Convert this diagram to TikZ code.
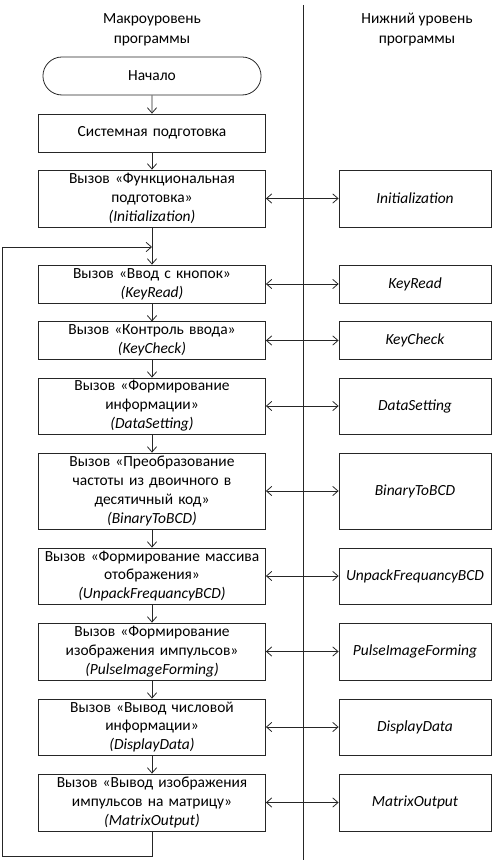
\documentclass[tikz,border=0pt]{standalone}
\usepackage{fontspec}
\setmainfont{Carlito}
\usetikzlibrary{arrows.meta,shapes.misc}
\begin{document}
\begin{tikzpicture}[x=0.75pt,y=-0.75pt,
  font=\fontsize{11.6}{14.2}\selectfont,
  ln/.style={draw=black!85,line width=0.6pt},
  lbox/.style={ln,rectangle,minimum width=170.25pt,inner sep=1pt,align=center,text width=168pt},
  rbox/.style={ln,rectangle,minimum width=114pt,inner sep=1pt,align=center,text width=112pt},
  term/.style={ln,rounded rectangle,minimum width=170.25pt,minimum height=28.5pt,align=center},
  head/.style={align=center,font=\fontsize{11.6}{15}\selectfont},
  arr/.style={ln,-{Straight Barb[length=4pt,width=7pt]}},
  barr/.style={ln,{Straight Barb[length=4pt,width=7pt]}-{Straight Barb[length=4pt,width=7pt]}}]
\useasboundingbox (0,0) rectangle (494,862);

\node[head] (h1) at (152,30) {Макроуровень\\программы};
\node[head] (h2) at (417,30) {Нижний уровень\\программы};

\coordinate (dt) at (303,5);
\coordinate (db) at (303,860);
\draw[ln] (dt) -- (db);

\node[term] (start) at (152,76) {Начало};
\node[lbox,minimum height=28.5pt] (sys) at (152,133) {Системная подготовка};
\node[lbox,minimum height=42.75pt] (init) at (152,198.5) {Вызов «Функциональная\\подготовка»\\\textit{(Initialization)}};
\node[lbox,minimum height=28.5pt] (kr) at (152,284) {Вызов «Ввод с кнопок»\\\textit{(KeyRead)}};
\node[lbox,minimum height=28pt] (kc) at (152,340.5) {Вызов «Контроль ввода»\\\textit{(KeyCheck)}};
\node[lbox,minimum height=42pt] (ds) at (152,406) {Вызов «Формирование\\информации»\\\textit{(DataSetting)}};
\node[lbox,minimum height=57pt] (bb) at (152,491) {Вызов «Преобразование\\частоты из двоичного в\\десятичный код»\\\textit{(BinaryToBCD)}};
\node[lbox,minimum height=42pt] (up) at (152,576) {Вызов «Формирование массива\\отображения»\\\textit{(UnpackFrequancyBCD)}};
\node[lbox,minimum height=42.75pt] (pf) at (152,651.5) {Вызов «Формирование\\изображения импульсов»\\\textit{(PulseImageForming)}};
\node[lbox,minimum height=42pt] (dd) at (152,727) {Вызов «Вывод числовой\\информации»\\\textit{(DisplayData)}};
\node[lbox,minimum height=42.75pt] (mo) at (152,802.5) {Вызов «Вывод изображения\\импульсов на матрицу»\\\textit{(MatrixOutput)}};

\node[rbox,minimum height=42.75pt] (rinit) at (415,198.5) {\textit{Initialization}};
\node[rbox,minimum height=28.5pt] (rkr) at (415,284) {\textit{KeyRead}};
\node[rbox,minimum height=28pt] (rkc) at (415,340.5) {\textit{KeyCheck}};
\node[rbox,minimum height=42pt] (rds) at (415,406) {\textit{DataSetting}};
\node[rbox,minimum height=57pt] (rbb) at (415,491) {\textit{BinaryToBCD}};
\node[rbox,minimum height=42pt] (rup) at (415,576) {\textit{UnpackFrequancyBCD}};
\node[rbox,minimum height=42.75pt] (rpf) at (415,651.5) {\textit{PulseImageForming}};
\node[rbox,minimum height=42pt] (rdd) at (415,727) {\textit{DisplayData}};
\node[rbox,minimum height=42.75pt] (rmo) at (415,802.5) {\textit{MatrixOutput}};

\draw[arr] (start) -- (sys);
\draw[arr] (sys) -- (init);
\draw[arr] (init) -- (kr);
\draw[arr] (kr) -- (kc);
\draw[arr] (kc) -- (ds);
\draw[arr] (ds) -- (bb);
\draw[arr] (bb) -- (up);
\draw[arr] (up) -- (pf);
\draw[arr] (pf) -- (dd);
\draw[arr] (dd) -- (mo);

\foreach \a/\b in {init/rinit,kr/rkr,kc/rkc,ds/rds,bb/rbb,up/rup,pf/rpf,dd/rdd,mo/rmo}
  \draw[barr] (\a.east) -- (\b.west);

\coordinate (lb) at (152,856);
\coordinate (ll) at (2,856);
\coordinate (lt) at (2,247);
\coordinate (lj) at (152,247);
\draw[arr] (mo.south) -- (lb) -- (ll) -- (lt) -- (lj);
\end{tikzpicture}
\end{document}
